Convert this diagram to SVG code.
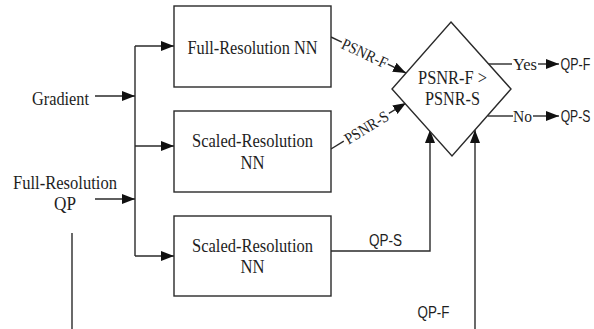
<svg xmlns="http://www.w3.org/2000/svg" width="594" height="329" viewBox="0 0 594 329">
  <style>
    .box { fill: #fff; stroke: #2a2a2a; stroke-width: 1.4; }
    .wire { fill: none; stroke: #2a2a2a; stroke-width: 1.4; }
    .arrow { marker-end: url(#head); }
    .serif { font-family: "Liberation Serif", "Times New Roman", serif; font-size: 18px; fill: #1e1e1e; text-anchor: middle; }
    .tag { font-family: "Liberation Serif", "Times New Roman", serif; font-size: 16px; fill: #1e1e1e; text-anchor: middle; }
    .sans { font-family: "Liberation Sans", Arial, sans-serif; font-size: 16px; fill: #1e1e1e; text-anchor: middle; }
  </style>
  <defs>
    <marker id="head" markerUnits="userSpaceOnUse" markerWidth="14" markerHeight="11" refX="13" refY="5" orient="auto">
      <path d="M0,0 L13,5 L0,10 Z" fill="#111"/>
    </marker>
  </defs>

  <rect width="594" height="329" fill="#fff"/>

  <!-- connectors -->
  <g id="connectors">
    <!-- inputs into the feed bus -->
    <path class="wire arrow" d="M95,96 H135"/>
    <path class="wire arrow" d="M95,199 H135"/>
    <path class="wire" d="M135,46 V256"/>
    <path class="wire arrow" d="M135,46 H174"/>
    <path class="wire arrow" d="M135,146 H174"/>
    <path class="wire arrow" d="M135,256 H174"/>

    <!-- PSNR-F into the comparison -->
    <path class="wire" d="M331,37 L341.8,42.2"/>
    <path class="wire arrow" d="M387.8,64.2 L406,73"/>
    <g transform="rotate(25.6 364.8 53.2)">
      <text class="tag" x="364.8" y="53.2" dy="0.35em" textLength="49" lengthAdjust="spacingAndGlyphs">PSNR-F</text>
    </g>

    <!-- PSNR-S into the comparison -->
    <path class="wire" d="M331,149 L343.8,141.2"/>
    <path class="wire arrow" d="M388.9,113.4 L406,103"/>
    <g transform="rotate(-31.5 366.4 127.3)">
      <text class="tag" x="366.4" y="127.3" dy="0.35em" textLength="49" lengthAdjust="spacingAndGlyphs">PSNR-S</text>
    </g>

    <!-- outcomes -->
    <path class="wire" d="M488,64 H512"/>
    <text class="tag" x="525" y="69.5" textLength="24" lengthAdjust="spacingAndGlyphs">Yes</text>
    <path class="wire arrow" d="M538,64 H559"/>
    <text class="sans" transform="translate(575.5 69.5) scale(0.78 1)">QP-F</text>

    <path class="wire" d="M488,116 H513"/>
    <text class="tag" x="522.5" y="121.5" textLength="19" lengthAdjust="spacingAndGlyphs">No</text>
    <path class="wire arrow" d="M533,116 H559"/>
    <text class="sans" transform="translate(575.5 121.5) scale(0.76 1)">QP-S</text>

    <!-- QP-S from the lower scaled network -->
    <path class="wire arrow" d="M331,251 H430 V130"/>
    <text class="sans" x="385.5" y="246" textLength="33" lengthAdjust="spacingAndGlyphs">QP-S</text>

    <!-- QP-F from below -->
    <path class="wire arrow" d="M475,329 V130"/>
    <text class="sans" x="433.5" y="317.5" textLength="32" lengthAdjust="spacingAndGlyphs">QP-F</text>

    <!-- loose feed line on the left -->
    <path class="wire" d="M72,233 V329"/>
  </g>

  <!-- inputs -->
  <g id="gradient">
    <text class="serif" x="60.5" y="105" textLength="57" lengthAdjust="spacingAndGlyphs">Gradient</text>
  </g>
  <g id="full-res-qp">
    <text class="serif" x="65" y="188.5" textLength="104" lengthAdjust="spacingAndGlyphs">Full-Resolution</text>
    <text class="serif" x="65" y="210" textLength="22" lengthAdjust="spacingAndGlyphs">QP</text>
  </g>

  <!-- networks -->
  <g id="full-res-nn">
    <rect class="box" x="174" y="6" width="157" height="81"/>
    <text class="serif" x="252.5" y="54" textLength="130" lengthAdjust="spacingAndGlyphs">Full-Resolution NN</text>
  </g>
  <g id="scaled-res-nn-1">
    <rect class="box" x="174" y="111" width="157" height="81"/>
    <text class="serif" x="252.5" y="147" textLength="121" lengthAdjust="spacingAndGlyphs">Scaled-Resolution</text>
    <text class="serif" x="252.5" y="168.5" textLength="24" lengthAdjust="spacingAndGlyphs">NN</text>
  </g>
  <g id="scaled-res-nn-2">
    <rect class="box" x="174" y="216" width="157" height="80"/>
    <text class="serif" x="252.5" y="252" textLength="121" lengthAdjust="spacingAndGlyphs">Scaled-Resolution</text>
    <text class="serif" x="252.5" y="273" textLength="24" lengthAdjust="spacingAndGlyphs">NN</text>
  </g>

  <!-- comparison -->
  <g id="compare">
    <polygon class="box" points="451,22 511,89 452,156 392,89"/>
    <text class="serif" x="452.5" y="83.5" textLength="69" lengthAdjust="spacingAndGlyphs">PSNR-F &gt;</text>
    <text class="serif" x="452.5" y="105" textLength="55" lengthAdjust="spacingAndGlyphs">PSNR-S</text>
  </g>
</svg>
